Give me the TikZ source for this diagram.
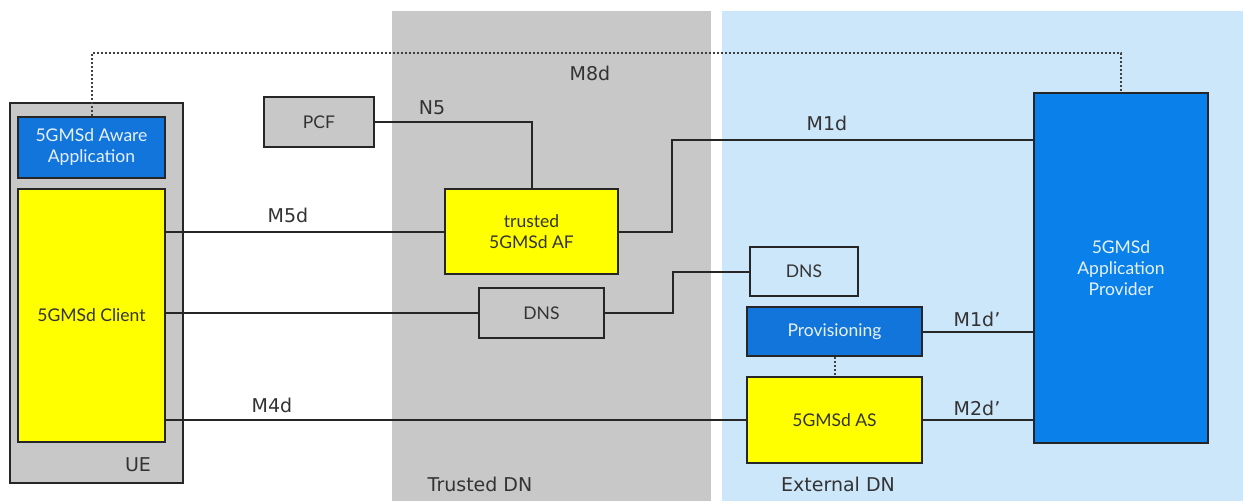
\documentclass[tikz,border=0pt]{standalone}
\usepackage{fontspec}
\setmainfont{DejaVu Sans}
\newfontfamily\boxfont{Lato}
\definecolor{zonegray}{HTML}{C8C8C8}
\definecolor{zoneblue}{HTML}{CCE6FA}
\definecolor{boxblue}{HTML}{1275DC}
\definecolor{apblue}{HTML}{0A80EA}
\definecolor{boxyellow}{HTML}{FFFF00}
\definecolor{txtgray}{HTML}{333333}
\begin{document}
\begin{tikzpicture}[x=1pt,y=-1pt,
  box/.style={draw=black!85, line width=2pt, inner sep=0pt, align=center,
    font=\boxfont\fontsize{17.5}{21}\selectfont, text=txtgray},
  graybox/.style={box, fill=zonegray},
  yelbox/.style={box, fill=boxyellow},
  bluebox/.style={box, fill=boxblue, text=white!90!boxblue},
  lbl/.style={font=\fontsize{19}{22}\selectfont, text=txtgray, inner sep=0pt},
  conn/.style={line width=2pt, draw=black!85},
  dotconn/.style={line width=2pt, draw=black!75, dotted}]
\useasboundingbox (0,0) rectangle (1243,501);
\fill[white] (0,0) rectangle (1243,501);
% zones
\fill[zonegray] (392,11) rectangle (711,501);
\fill[zoneblue] (722,11) rectangle (1243,501);
% boxes
\node[graybox, minimum width=173pt, minimum height=380pt] (ue) at (96.5,293) {};
\node[bluebox, minimum width=147pt, minimum height=61pt] (aware) at (91.5,147.5) {5GMSd Aware\\Application};
\node[yelbox, minimum width=147pt, minimum height=253pt] (client) at (91.5,315.5) {5GMSd Client};
\node[lbl] (uelbl) at (138,465) {UE};
\node[graybox, minimum width=110pt, minimum height=50pt] (pcf) at (319,122) {PCF};
\node[yelbox, minimum width=173pt, minimum height=85pt] (af) at (531.5,231.5) {trusted\\5GMSd AF};
\node[graybox, minimum width=125pt, minimum height=50pt] (dns1) at (541.5,313) {DNS};
\node[box, fill=zoneblue, minimum width=108pt, minimum height=49pt] (dns2) at (804,271.5) {DNS};
\node[bluebox, minimum width=175pt, minimum height=49pt] (prov) at (834.5,331.5) {Provisioning};
\node[yelbox, minimum width=175pt, minimum height=86pt] (as) at (834.5,420) {5GMSd AS};
\node[box, fill=apblue, text=white!90!apblue, minimum width=174pt, minimum height=350pt] (ap) at (1121,268) {5GMSd\\Application\\Provider};
% helper coordinates
\coordinate (m8) at (600,53);
\coordinate (j1) at (673,290);
\coordinate (j2) at (672,185);
\coordinate (m1y) at (0,140);
% connectors
\draw[dotconn] (aware.north) |- (m8) -| (ap.north);
\draw[conn] (pcf.east) -| (af.north);
\draw[conn] (client.east |- af.west) -- (af.west);
\draw[conn] (client.east |- dns1.west) -- (dns1.west);
\draw[conn] (dns1.east) -| (j1) |- (dns2.west);
\draw[conn] (af.east) -| (j2) |- (ap.west |- m1y);
\draw[conn] (prov.east) -- (prov.east -| ap.west);
\draw[conn] (as.east) -- (as.east -| ap.west);
\draw[conn] (client.east |- as.west) -- (as.west);
\draw[dotconn] (prov.south) -- (as.north);
% labels
\node[lbl] (lm8) at (590,73) {M8d};
\node[lbl] (ln5) at (432,108) {N5};
\node[lbl] (lm5) at (288,215) {M5d};
\node[lbl] (lm1) at (827,123) {M1d};
\node[lbl] (lm4) at (272,405) {M4d};
\node[lbl] (lm1p) at (977,319) {M1d’};
\node[lbl] (lm2p) at (977,408) {M2d’};
\node[lbl] (ltr) at (480,484) {Trusted DN};
\node[lbl] (lex) at (838,484) {External DN};
\end{tikzpicture}
\end{document}
